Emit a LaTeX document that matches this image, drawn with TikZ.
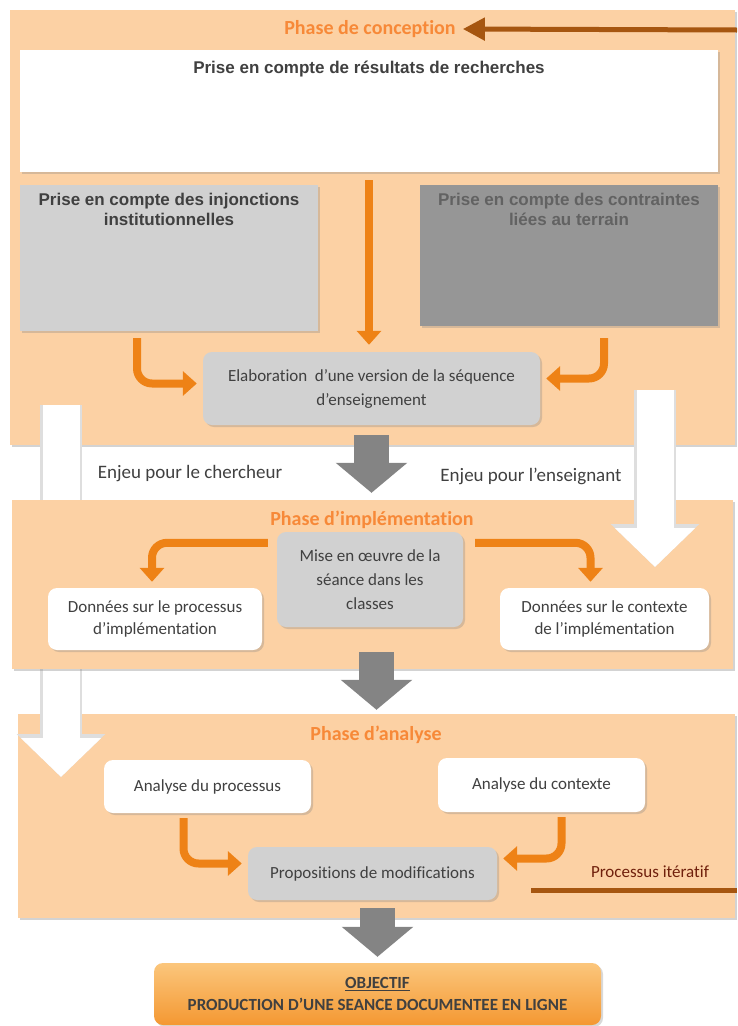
\documentclass[tikz,border=0pt]{standalone}
\usepackage{fontspec}
\setmainfont{Carlito}[Ligatures={TeX,NoCommon}]
\newfontfamily\arialfont{Liberation Sans}
\usetikzlibrary{arrows.meta,positioning,calc,shadows}
\definecolor{peach}{RGB}{252,209,164}
\definecolor{phaseorange}{RGB}{247,137,56}
\definecolor{txtgray}{RGB}{64,64,64}
\definecolor{lightbox}{RGB}{209,209,209}
\definecolor{darkbox}{RGB}{150,150,150}
\definecolor{darkboxtxt}{RGB}{98,98,98}
\definecolor{arrorange}{RGB}{238,130,22}
\definecolor{arrgray}{RGB}{132,132,132}
\definecolor{edgegray}{RGB}{222,222,222}
\definecolor{iterbrown}{RGB}{166,86,16}
\definecolor{itertxt}{RGB}{112,32,12}
\definecolor{objtop}{RGB}{251,198,124}
\definecolor{objbot}{RGB}{244,152,50}
\tikzset{
  phase/.style={fill=peach,inner sep=0pt,
                drop shadow={opacity=0.35,shadow xshift=2pt,shadow yshift=-2pt}},
  phtitle/.style={text=phaseorange,font=\bfseries\fontsize{20}{24}\selectfont,inner sep=0pt},
  bigbox/.style={inner sep=0pt,drop shadow={opacity=0.3,shadow xshift=2pt,shadow yshift=-2pt}},
  boldtxt/.style={font=\arialfont\bfseries\fontsize{17}{20}\selectfont,align=center,
                  inner sep=0pt,text=txtgray},
  rbox/.style={rounded corners=9pt,inner sep=0pt,align=center,text=txtgray,
               font=\fontsize{17}{24}\selectfont,
               drop shadow={opacity=0.3,shadow xshift=2pt,shadow yshift=-2pt}},
  plaintxt/.style={inner sep=0pt,text=txtgray,font=\fontsize{19}{22}\selectfont},
  orarrow/.style={draw=arrorange,line width=8pt,line cap=butt,rounded corners=15pt,
                  shorten >=6pt,-{Triangle[width=24pt,length=14pt]}},
  grayarrow/.style={draw=arrgray,line width=35pt,line cap=butt,
                    -{Triangle[width=70pt,length=30pt]}},
  whitearrow/.style={preaction={draw=edgegray,line width=42pt,
                     -{Triangle[width=86pt,length=43pt]}},
                     draw=white,line width=37pt,line cap=butt,
                     -{Triangle[width=78pt,length=39pt]}},
  iterline/.style={draw=iterbrown,line width=5pt,line cap=butt},
  every picture/.style={line join=round}}
\begin{document}
\begin{tikzpicture}[x=1pt,y=-1pt]
  \useasboundingbox (0,0) rectangle (737,1026);
  \node[phase,minimum width=725pt,minimum height=435pt] (ph1) at (372.5,227.5){};
  \node[phase,minimum width=717pt,minimum height=204pt] (ph3) at (376.5,816){};
  \coordinate (wl0) at (61,405); \coordinate (wl1) at (61,777);
  \draw[whitearrow] (wl0)--(wl1);
  \node[phase,minimum width=721pt,minimum height=169pt] (ph2) at (372.5,584.5){};
  \coordinate (wr0) at (655,390); \coordinate (wr1) at (655,567);
  \draw[whitearrow] (wr0)--(wr1);
  \node[phtitle] (t1) at (370,29){Phase de conception};
  \node[phtitle] (t2) at (372,520){Phase d’implémentation};
  \node[phtitle] (t3) at (376,735){Phase d’analyse};
  \node[bigbox,fill=white,minimum width=698pt,minimum height=122pt,
        label={[boldtxt,anchor=north,yshift=-11pt]north:Prise en compte de résultats de recherches}]
        (rech) at (369,111){};
  \node[bigbox,fill=lightbox,minimum width=298pt,minimum height=146pt,
        label={[boldtxt,anchor=north,yshift=-8pt]north:Prise en compte des injonctions\\institutionnelles}]
        (inj) at (169,258){};
  \node[bigbox,fill=darkbox,minimum width=298pt,minimum height=141pt,
        label={[boldtxt,text=darkboxtxt,anchor=north,yshift=-8pt]north:Prise en compte des contraintes\\liées au terrain}]
        (contr) at (569,255.5){};
  \node[rbox,fill=lightbox,minimum width=337pt,minimum height=73pt] (elab) at (371.5,388.5)
        {Elaboration\ \ d’une version de la séquence\\d’enseignement};
  \node[rbox,fill=lightbox,minimum width=186pt,minimum height=95pt] (mise) at (370,579.5)
        {Mise en œuvre de la\\séance dans les\\classes};
  \node[rbox,fill=white,minimum width=214pt,minimum height=62pt,font=\fontsize{17}{22}\selectfont]
        (donp) at (155,619){Données sur le processus\\d’implémentation};
  \node[rbox,fill=white,minimum width=209pt,minimum height=62pt,font=\fontsize{17}{22}\selectfont]
        (donc) at (604.5,619){Données sur le contexte\\de l’implémentation};
  \node[rbox,fill=white,minimum width=207pt,minimum height=53pt] (anp) at (207.5,786.5){Analyse du processus};
  \node[rbox,fill=white,minimum width=207pt,minimum height=54pt] (anc) at (541.5,785){Analyse du contexte};
  \node[rbox,fill=lightbox,minimum width=249pt,minimum height=53pt] (prop) at (372.5,873.5)
        {Propositions de modifications};
  \node[rbox,top color=objtop,bottom color=objbot,minimum width=447pt,minimum height=62pt,
        font=\bfseries\fontsize{17}{22}\selectfont] (obj) at (377.5,994)
        {\underline{OBJECTIF}\\PRODUCTION D’UNE SEANCE DOCUMENTEE EN LIGNE};
  \node[plaintxt] (enjc) at (190,474){Enjeu pour le chercheur};
  \node[plaintxt] (enje) at (531,476){Enjeu pour l’enseignant};
  \node[inner sep=0pt,text=itertxt,font=\fontsize{17}{20}\selectfont] (iter) at (650,872){Processus itératif};
  \draw[orarrow,shorten <=8pt,shorten >=7pt] (rech.south) -- (rech.south |- elab.north);
  \draw[orarrow] ([xshift=-32pt,yshift=-7pt]inj.south) |- ([yshift=5pt]elab.west);
  \draw[orarrow] ([xshift=35pt,yshift=-12pt]contr.south) |- ([yshift=10pt]elab.east);
  \draw[orarrow] ([xshift=-9pt,yshift=-11pt]mise.north west) -| ([xshift=-3pt]donp.north);
  \draw[orarrow] ([xshift=12pt,yshift=-11pt]mise.north east) -| ([xshift=-14pt]donc.north);
  \draw[orarrow] ([xshift=-24pt,yshift=-5pt]anp.south) |- ([yshift=10pt]prop.west);
  \draw[orarrow] ([xshift=20pt,yshift=-5pt]anc.south) |- ([yshift=15pt]prop.east);
  \draw[grayarrow] ([yshift=-10pt]elab.south) -- ($(elab.south |- ph2.north)+(0,-7)$);
  \draw[grayarrow] ($(mise.south -| ph3.north)+(0,25)$) -- ([yshift=4pt]ph3.north);
  \draw[grayarrow] ($(prop.south -| obj.north)+(0,8)$) -- ([yshift=6pt]obj.north);
  \coordinate (itin) at (737,30);
  \draw[iterline,-{Triangle[width=22pt,length=22pt]}] (itin) -- ([xshift=7pt]t1.east);
  \coordinate (itst) at (531,890); \coordinate (itout) at (737,890);
  \draw[iterline] (itst) -- (itout);
\end{tikzpicture}
\end{document}
